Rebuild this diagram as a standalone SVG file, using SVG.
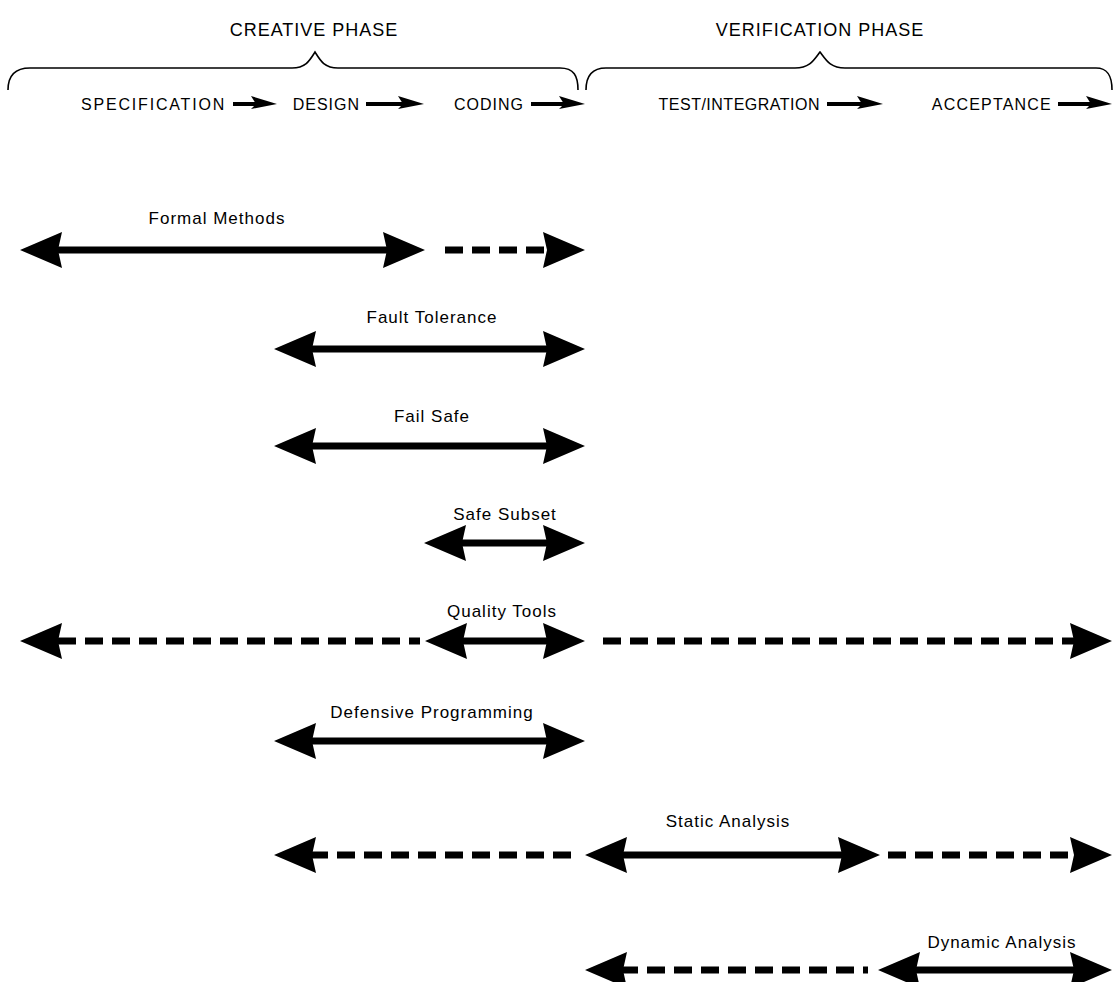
<svg xmlns="http://www.w3.org/2000/svg" xmlns:xlink="http://www.w3.org/1999/xlink" width="1116" height="982" viewBox="0 0 1116 982">
<style>
text{font-family:"Liberation Sans",Arial,sans-serif;fill:#000}
.ph{font-size:18px;letter-spacing:1px}
.st{font-size:16px}
.lb{font-size:17px;letter-spacing:1px}
.brace{fill:none;stroke:#000;stroke-width:1.6}
.sol{stroke:#000;stroke-width:7;fill:none}
.dsh{stroke:#000;stroke-width:7;fill:none;stroke-dasharray:18 9}
.sm{stroke:#000;stroke-width:4;fill:none}
</style>
<defs>
<path id="hd" d="M0,0 L-42,-18 L-38,0 L-42,18 Z" fill="#000"/>
<path id="sh" d="M0,0 L-26,-8 L-21,0 L-26,5 Z" fill="#000"/>
</defs>
<rect width="1116" height="982" fill="#fff"/>

<g id="phases">
<text class="ph" x="314" y="36" text-anchor="middle">CREATIVE PHASE</text>
<path class="brace" d="M8,90 C8,76 14,68 30,68 L292,68 C306,68 310,60 315,52 C320,60 324,68 338,68 L560,68 C574,68 578,76 578,90"/>
<text class="ph" x="820" y="36" text-anchor="middle">VERIFICATION PHASE</text>
<path class="brace" d="M586,90 C586,76 592,68 606,68 L795,68 C810,68 814,60 820,52 C826,60 830,68 845,68 L1096,68 C1108,68 1112,76 1112,90"/>
</g>

<g id="stages">
<text class="st" x="226" y="110" text-anchor="end" letter-spacing="1.8">SPECIFICATION</text>
<text class="st" x="360" y="110" text-anchor="end" letter-spacing="1">DESIGN</text>
<text class="st" x="524" y="110" text-anchor="end" letter-spacing="1">CODING</text>
<text class="st" x="820" y="110" text-anchor="end" letter-spacing="0.5">TEST/INTEGRATION</text>
<text class="st" x="1052" y="110" text-anchor="end" letter-spacing="1.2">ACCEPTANCE</text>
<g id="stage-arrows">
<line class="sm" x1="233" y1="104" x2="258" y2="104"/><use xlink:href="#sh" x="277" y="104"/>
<line class="sm" x1="366" y1="104" x2="405" y2="104"/><use xlink:href="#sh" x="424" y="104"/>
<line class="sm" x1="531" y1="104" x2="566" y2="104"/><use xlink:href="#sh" x="585" y="104"/>
<line class="sm" x1="827" y1="104" x2="864" y2="104"/><use xlink:href="#sh" x="883" y="104"/>
<line class="sm" x1="1058" y1="104" x2="1093" y2="104"/><use xlink:href="#sh" x="1112" y="104"/>
</g>
</g>

<g id="labels">
<text class="lb" x="217" y="224" text-anchor="middle">Formal Methods</text>
<text class="lb" x="432" y="323" text-anchor="middle">Fault Tolerance</text>
<text class="lb" x="432" y="422" text-anchor="middle">Fail Safe</text>
<text class="lb" x="505" y="520" text-anchor="middle">Safe Subset</text>
<text class="lb" x="502" y="617" text-anchor="middle">Quality Tools</text>
<text class="lb" x="432" y="718" text-anchor="middle">Defensive Programming</text>
<text class="lb" x="728" y="827" text-anchor="middle">Static Analysis</text>
<text class="lb" x="1002" y="948" text-anchor="middle">Dynamic Analysis</text>
</g>

<g id="connectors">
<!-- Formal Methods -->
<line class="sol" x1="55" y1="250" x2="390" y2="250"/>
<use xlink:href="#hd" transform="translate(20,250) rotate(180)"/>
<use xlink:href="#hd" transform="translate(425,250)"/>
<line class="dsh" x1="445" y1="250" x2="548" y2="250"/>
<use xlink:href="#hd" transform="translate(585,250)"/>
<!-- Fault Tolerance -->
<line class="sol" x1="310" y1="349" x2="550" y2="349"/>
<use xlink:href="#hd" transform="translate(274,349) rotate(180)"/>
<use xlink:href="#hd" transform="translate(585,349)"/>
<!-- Fail Safe -->
<line class="sol" x1="310" y1="446" x2="550" y2="446"/>
<use xlink:href="#hd" transform="translate(274,446) rotate(180)"/>
<use xlink:href="#hd" transform="translate(585,446)"/>
<!-- Safe Subset -->
<line class="sol" x1="460" y1="543" x2="550" y2="543"/>
<use xlink:href="#hd" transform="translate(424,543) rotate(180)"/>
<use xlink:href="#hd" transform="translate(585,543)"/>
<!-- Quality Tools -->
<line class="dsh" x1="58" y1="641" x2="420" y2="641"/>
<use xlink:href="#hd" transform="translate(20,641) rotate(180)"/>
<line class="sol" x1="460" y1="641" x2="550" y2="641"/>
<use xlink:href="#hd" transform="translate(425,641) rotate(180)"/>
<use xlink:href="#hd" transform="translate(585,641)"/>
<line class="dsh" x1="603" y1="641" x2="1076" y2="641"/>
<use xlink:href="#hd" transform="translate(1112,641)"/>
<!-- Defensive Programming -->
<line class="sol" x1="310" y1="741" x2="550" y2="741"/>
<use xlink:href="#hd" transform="translate(274,741) rotate(180)"/>
<use xlink:href="#hd" transform="translate(585,741)"/>
<!-- Static Analysis -->
<line class="dsh" x1="310" y1="855" x2="580" y2="855"/>
<use xlink:href="#hd" transform="translate(274,855) rotate(180)"/>
<line class="sol" x1="620" y1="855" x2="845" y2="855"/>
<use xlink:href="#hd" transform="translate(585,855) rotate(180)"/>
<use xlink:href="#hd" transform="translate(880,855)"/>
<line class="dsh" x1="888" y1="855" x2="1076" y2="855"/>
<use xlink:href="#hd" transform="translate(1112,855)"/>
<!-- Dynamic Analysis -->
<line class="dsh" x1="620" y1="970" x2="868" y2="970"/>
<use xlink:href="#hd" transform="translate(585,970) rotate(180)"/>
<line class="sol" x1="914" y1="970" x2="1076" y2="970"/>
<use xlink:href="#hd" transform="translate(878,970) rotate(180)"/>
<use xlink:href="#hd" transform="translate(1112,970)"/>
</g>
</svg>
